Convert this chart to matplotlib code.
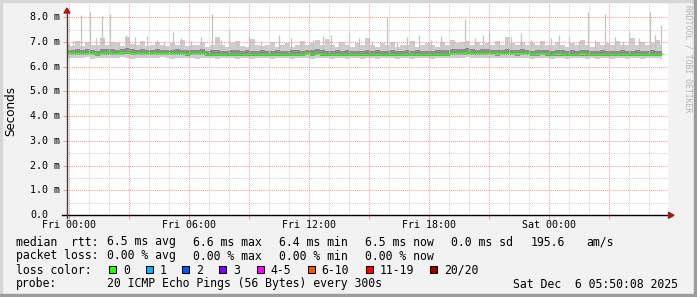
import numpy as np
import matplotlib
matplotlib.use("Agg")
import matplotlib.pyplot as plt
from matplotlib.patches import Polygon, Rectangle
from matplotlib.lines import Line2D
from matplotlib.transforms import blended_transform_factory

W, H = 697, 297

# one step every 15 minutes, hours counted from Fri 00:00
step_hours = np.arange(120) * 0.25 - 0.1

median_ms = [
    6.55, 6.54, 6.56, 6.55, 6.57, 6.55, 6.50, 6.56, 6.58, 6.57,
    6.56, 6.58, 6.60, 6.57, 6.55, 6.56, 6.54, 6.55, 6.57, 6.55,
    6.54, 6.55, 6.56, 6.54, 6.53, 6.55, 6.54, 6.56, 6.53, 6.52,
    6.53, 6.52, 6.51, 6.53, 6.52, 6.51, 6.52, 6.50, 6.51, 6.52,
    6.51, 6.50, 6.52, 6.51, 6.50, 6.52, 6.53, 6.52, 6.54, 6.53,
    6.55, 6.53, 6.52, 6.50, 6.52, 6.51, 6.53, 6.52, 6.51, 6.50,
    6.52, 6.51, 6.53, 6.52, 6.51, 6.52, 6.50, 6.51, 6.52, 6.51,
    6.53, 6.52, 6.51, 6.50, 6.52, 6.53, 6.52, 6.54, 6.56, 6.57,
    6.58, 6.56, 6.55, 6.57, 6.56, 6.55, 6.54, 6.55, 6.56, 6.55,
    6.54, 6.56, 6.55, 6.53, 6.54, 6.55, 6.53, 6.52, 6.54, 6.53,
    6.52, 6.53, 6.52, 6.54, 6.53, 6.52, 6.51, 6.53, 6.52, 6.51,
    6.52, 6.53, 6.51, 6.52, 6.53, 6.51, 6.52, 6.53, 6.52, 6.51,
]
ping_min = [
    6.36, 6.34, 6.37, 6.35, 6.38, 6.33, 6.36, 6.35, 6.37, 6.34,
    6.36, 6.38, 6.35, 6.33, 6.36, 6.37, 6.34, 6.36, 6.35, 6.38,
    6.35, 6.33, 6.36, 6.34, 6.37, 6.35, 6.32, 6.36, 6.34, 6.35,
    6.33, 6.36, 6.34, 6.35, 6.32, 6.36, 6.34, 6.33, 6.35, 6.34,
    6.36, 6.33, 6.35, 6.34, 6.36, 6.32, 6.35, 6.34, 6.36, 6.33,
    6.35, 6.34, 6.36, 6.33, 6.35, 6.34, 6.32, 6.35, 6.36, 6.33,
    6.34, 6.36, 6.33, 6.35, 6.34, 6.36, 6.33, 6.35, 6.34, 6.32,
    6.35, 6.34, 6.36, 6.33, 6.35, 6.34, 6.36, 6.35, 6.37, 6.36,
    6.38, 6.36, 6.35, 6.37, 6.36, 6.34, 6.36, 6.35, 6.37, 6.35,
    6.34, 6.36, 6.35, 6.33, 6.35, 6.36, 6.34, 6.33, 6.35, 6.34,
    6.33, 6.35, 6.34, 6.36, 6.33, 6.34, 6.32, 6.35, 6.34, 6.33,
    6.34, 6.35, 6.33, 6.34, 6.36, 6.33, 6.34, 6.35, 6.34, 6.33,
]
ping_q1 = [
    6.47, 6.46, 6.48, 6.47, 6.49, 6.46, 6.43, 6.47, 6.49, 6.48,
    6.47, 6.49, 6.50, 6.48, 6.46, 6.47, 6.46, 6.46, 6.48, 6.46,
    6.46, 6.47, 6.47, 6.46, 6.45, 6.46, 6.46, 6.47, 6.45, 6.44,
    6.45, 6.44, 6.43, 6.45, 6.44, 6.43, 6.44, 6.42, 6.43, 6.44,
    6.43, 6.42, 6.44, 6.43, 6.42, 6.44, 6.45, 6.44, 6.46, 6.45,
    6.46, 6.45, 6.44, 6.42, 6.44, 6.43, 6.45, 6.44, 6.43, 6.42,
    6.44, 6.43, 6.45, 6.44, 6.43, 6.44, 6.42, 6.43, 6.44, 6.43,
    6.45, 6.44, 6.43, 6.42, 6.44, 6.45, 6.44, 6.46, 6.47, 6.48,
    6.49, 6.47, 6.46, 6.48, 6.47, 6.46, 6.45, 6.46, 6.47, 6.46,
    6.45, 6.47, 6.46, 6.44, 6.45, 6.46, 6.44, 6.43, 6.45, 6.44,
    6.43, 6.44, 6.43, 6.45, 6.44, 6.43, 6.42, 6.44, 6.43, 6.42,
    6.43, 6.44, 6.42, 6.43, 6.44, 6.42, 6.43, 6.44, 6.43, 6.42,
]
ping_q3 = [
    6.68, 6.66, 6.70, 6.67, 6.72, 6.68, 6.64, 6.73, 6.71, 6.70,
    6.69, 6.72, 6.75, 6.70, 6.68, 6.71, 6.67, 6.68, 6.72, 6.68,
    6.66, 6.69, 6.70, 6.67, 6.66, 6.69, 6.67, 6.71, 6.65, 6.66,
    6.68, 6.65, 6.64, 6.67, 6.66, 6.63, 6.66, 6.63, 6.65, 6.66,
    6.64, 6.63, 6.67, 6.65, 6.63, 6.66, 6.68, 6.65, 6.69, 6.67,
    6.70, 6.67, 6.65, 6.62, 6.66, 6.64, 6.67, 6.65, 6.63, 6.62,
    6.66, 6.64, 6.67, 6.65, 6.63, 6.66, 6.62, 6.64, 6.66, 6.64,
    6.67, 6.65, 6.64, 6.62, 6.66, 6.68, 6.66, 6.70, 6.72, 6.73,
    6.74, 6.71, 6.69, 6.72, 6.70, 6.68, 6.67, 6.69, 6.71, 6.68,
    6.66, 6.70, 6.68, 6.65, 6.67, 6.69, 6.66, 6.64, 6.68, 6.66,
    6.64, 6.66, 6.65, 6.68, 6.66, 6.64, 6.63, 6.67, 6.65, 6.63,
    6.65, 6.67, 6.63, 6.65, 6.67, 6.63, 6.65, 6.67, 6.65, 6.63,
]
ping_max = [
    6.92, 6.85, 7.05, 6.82, 7.00, 6.88, 6.90, 7.15, 6.86, 7.02,
    6.95, 6.84, 7.20, 6.92, 6.86, 7.05, 6.82, 6.90, 7.00, 6.86,
    6.82, 6.96, 6.86, 7.10, 6.82, 6.90, 6.86, 7.00, 6.80, 6.90,
    7.20, 6.86, 6.80, 6.95, 7.05, 6.85, 6.80, 7.12, 6.90, 6.82,
    6.86, 7.00, 6.80, 6.90, 6.95, 6.80, 6.86, 7.05, 6.90, 6.95,
    7.10, 6.86, 7.12, 6.90, 6.80, 7.00, 6.86, 6.80, 6.95, 6.86,
    7.15, 6.90, 6.80, 6.95, 6.86, 7.00, 6.80, 6.90, 6.86, 7.05,
    6.80, 6.90, 6.95, 6.86, 6.80, 7.00, 6.90, 7.10, 6.95, 7.00,
    7.05, 6.90, 7.00, 6.86, 6.95, 6.90, 7.05, 6.86, 7.20, 6.95,
    6.90, 7.00, 6.86, 6.95, 6.90, 7.05, 6.86, 6.90, 7.00, 6.86,
    6.80, 6.95, 6.86, 7.10, 6.90, 6.80, 7.00, 6.86, 6.95, 6.90,
    7.05, 6.86, 6.90, 7.15, 6.86, 7.00, 6.90, 6.95, 7.10, 6.90,
]

# single slow pings sticking out of the smoke
spike_hours = [0.58, 1.03, 1.63, 2.05, 2.83, 3.30, 5.20, 7.15, 8.00, 10.5,
               12.7, 14.0, 15.15, 15.9, 17.5, 19.8, 21.0, 22.6, 24.5, 25.95,
               26.8, 28.0, 29.05, 29.6,
               0.2, 1.35, 2.5, 3.9, 4.4, 4.75, 5.6, 6.1, 6.6, 7.6,
               8.4, 9.0, 9.6, 11.1, 11.6, 12.2, 13.1, 13.5, 14.5, 16.4,
               16.9, 18.1, 18.6, 19.2, 20.3, 20.7, 21.5, 22.1, 23.1, 23.6,
               24.1, 25.0, 25.5, 26.3, 27.3, 27.7, 28.5, 29.3]
spike_ms = [8.10, 8.20, 8.05, 8.15, 7.30, 7.20, 7.40, 8.15, 7.50, 7.30,
            7.25, 7.40, 7.05, 8.00, 7.30, 7.95, 7.40, 7.35, 7.30, 8.20,
            8.15, 7.40, 8.20, 7.70,
            7.05, 7.15, 7.00, 7.25, 7.10, 7.00, 7.15, 7.05, 7.20, 7.10,
            7.00, 7.25, 7.05, 7.15, 7.00, 7.10, 7.30, 7.05, 7.15, 7.00,
            7.20, 7.10, 7.25, 7.05, 7.15, 7.30, 7.05, 7.20, 7.10, 7.00,
            7.15, 7.25, 7.05, 7.10, 7.20, 7.05, 7.15, 7.30]

y_values = [0, 1, 2, 3, 4, 5, 6, 7, 8]
y_labels = ["0.0", "1.0 m", "2.0 m", "3.0 m", "4.0 m", "5.0 m", "6.0 m", "7.0 m", "8.0 m"]
x_label_hours = [0, 6, 12, 18, 24]
x_labels = ["Fri 00:00", "Fri 06:00", "Fri 12:00", "Fri 18:00", "Sat 00:00"]

rtt_items = ["6.5 ms avg", "6.6 ms max", "6.4 ms min", "6.5 ms now", "0.0 ms sd", "195.6", "am/s"]
loss_items = ["0.00 % avg", "0.00 % max", "0.00 % min", "0.00 % now"]
loss_labels = ["0", "1", "2", "3", "4-5", "6-10", "11-19", "20/20"]
loss_colors = ["#26ff00", "#00b8ff", "#0059ff", "#7e00ff", "#ff00ff", "#ff5500", "#ff0000", "#a10000"]
probe_text = "20 ICMP Echo Pings (56 Bytes) every 300s"
stamp_text = "Sat Dec  6 05:50:08 2025"


def fx(x):
    return x / W


def fy(y):
    return 1 - y / H


MONO = "DejaVu Sans Mono"
BG = "#f2f2f2"
MGRID = "#eaa0a0"
GRID = "#d4d4d4"
ARROW = "#a01c1c"

fig = plt.figure(figsize=(W / 100, H / 100), dpi=100, facecolor=BG)

# 3d style frame
fig.patches.append(Rectangle((0, fy(2)), 1, fy(0) - fy(2), transform=fig.transFigure,
                             color="#d6d6d6", zorder=0))
fig.patches.append(Rectangle((0, 0), fx(2), 1, transform=fig.transFigure, color="#d6d6d6", zorder=0))
fig.patches.append(Rectangle((fx(694), 0), 1 - fx(694), 1, transform=fig.transFigure,
                             color="#9c9c9c", zorder=0))
fig.patches.append(Rectangle((0, 0), 1, fy(294), transform=fig.transFigure, color="#9c9c9c", zorder=0))

ax = fig.add_axes([fx(67), fy(215), fx(668) - fx(67), fy(2) - fy(215)])
ax.set_facecolor("white")
ax.set_xlim(-0.1, 29.95)
ax.set_ylim(0, 8.62)
for s in ax.spines.values():
    s.set_visible(False)

# smoke
ax.fill_between(step_hours, ping_min, ping_max, step="mid", color="#cdcdcd", lw=0, zorder=1)
ax.fill_between(step_hours, ping_q1, ping_q3, step="mid", color="#8c8c8c", lw=0, zorder=1.2)
idx = np.clip(np.searchsorted(step_hours, spike_hours) - 1, 0, None)
ax.vlines(spike_hours, np.array(ping_q3)[idx], spike_ms, color="#c4c4c4", lw=0.9, zorder=1.1)
ax.step(step_hours, median_ms, where="mid", color="#26ff00", lw=1.0, zorder=3)

# grid
ax.set_xticks(np.arange(0, 30, 3))
ax.set_xticks([h for h in range(0, 30) if h % 3], minor=True)
ax.set_yticks(y_values[1:])
ax.set_yticks(np.arange(0.5, 8.0, 1.0), minor=True)
ax.set_axisbelow(False)
ax.grid(which="major", color=MGRID, lw=0.75, linestyle=(0, (1, 1)), zorder=2)
ax.grid(which="minor", color=GRID, lw=0.75, linestyle=(0, (1, 1)), zorder=2)
ax.tick_params(which="major", length=3, width=0.75, color=MGRID, labelbottom=False, labelleft=False)
ax.tick_params(which="minor", length=0, labelbottom=False, labelleft=False)

# axes with arrows
fig.lines.append(Line2D([fx(62), fx(669)], [fy(215.3), fy(215.3)], transform=fig.transFigure,
                        color="black", lw=1.0, zorder=5))
fig.lines.append(Line2D([fx(67), fx(67)], [fy(218), fy(12)], transform=fig.transFigure,
                        color="#404040", lw=1.0, zorder=5))
fig.patches.append(Polygon([(fx(64), fy(13)), (fx(70), fy(13)), (fx(67), fy(8))],
                           closed=True, transform=fig.transFigure, color=ARROW, zorder=6))
fig.patches.append(Polygon([(fx(668.5), fy(212.3)), (fx(668.5), fy(218.3)), (fx(674), fy(215.3))],
                           closed=True, transform=fig.transFigure, color=ARROW, zorder=6))

# tick labels
ty = blended_transform_factory(fig.transFigure, ax.transData)
for v, lab in zip(y_values, y_labels):
    fig.text(fx(30), v, lab, transform=ty, fontsize=7.2, family=MONO, ha="left", va="center")
tx = blended_transform_factory(ax.transData, fig.transFigure)
for h, lab in zip(x_label_hours, x_labels):
    ax.text(h, fy(227.5), lab, transform=tx, fontsize=7.2, family=MONO, ha="center",
            va="baseline", clip_on=False)

fig.text(fx(11), fy(111), "Seconds", rotation=90, fontsize=8.6, family="DejaVu Sans",
         ha="center", va="center")
fig.text(fx(688), fy(5), "RRDTOOL / TOBI OETIKER", rotation=270, fontsize=5.8, family=MONO,
         color="#b4b4b4", ha="center", va="top")

# legend block
LF = 8.3
col_x = [107, 193, 279, 365, 451, 530.7, 586.7]
rows = [245.5, 259.5, 273.5, 287.5]
fig.text(fx(16), fy(rows[0]), "median  rtt:", fontsize=LF, family=MONO, va="baseline")
for x, t in zip(col_x, rtt_items):
    fig.text(fx(x), fy(rows[0]), t, fontsize=LF, family=MONO, va="baseline")
fig.text(fx(16), fy(rows[1]), "packet loss:", fontsize=LF, family=MONO, va="baseline")
for x, t in zip(col_x, loss_items):
    fig.text(fx(x), fy(rows[1]), t, fontsize=LF, family=MONO, va="baseline")
fig.text(fx(16), fy(rows[2]), "loss color:", fontsize=LF, family=MONO, va="baseline")
box_x = [109, 145.7, 182, 219, 256.7, 307.7, 365.7, 430]
for x, lab, c in zip(box_x, loss_labels, loss_colors):
    fig.patches.append(Rectangle((fx(x), fy(273)), fx(7), fy(266) - fy(273), transform=fig.transFigure,
                                 facecolor=c, edgecolor="black", lw=0.75, zorder=5))
    fig.text(fx(x + 14), fy(rows[2]), lab, fontsize=LF, family=MONO, va="baseline")
fig.text(fx(16), fy(rows[3]), "probe:", fontsize=LF, family=MONO, va="baseline")
fig.text(fx(107), fy(rows[3]), probe_text, fontsize=LF, family=MONO, va="baseline")
fig.text(fx(513), fy(rows[3]), stamp_text, fontsize=LF, family=MONO, va="baseline")

fig.savefig("out.png", dpi=100, facecolor=BG)
